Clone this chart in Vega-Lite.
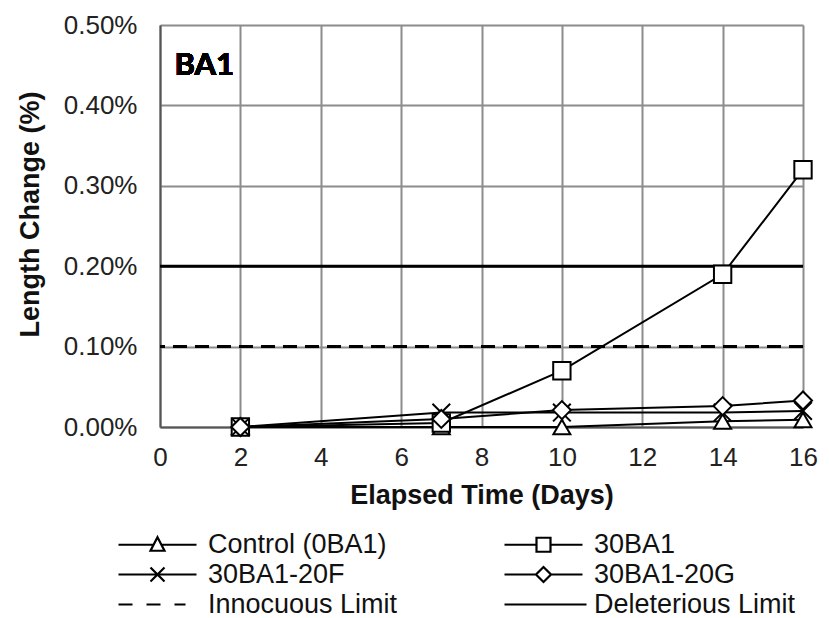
{
  "$schema": "https://vega.github.io/schema/vega-lite/v6.json",
  "width": 643,
  "height": 402,
  "padding": {"left": 16, "top": 12, "right": 12, "bottom": 0},
  "background": "white",
  "config": {
    "font": "Liberation Sans",
    "view": {"stroke": null},
    "axis": {
      "grid": true,
      "gridColor": "#8c8c8c",
      "gridWidth": 2,
      "domainColor": "#555555",
      "domainWidth": 2,
      "ticks": false,
      "labelFont": "Liberation Sans",
      "labelFontSize": 26,
      "labelColor": "#222222",
      "titleFont": "Liberation Sans",
      "titleFontSize": 27,
      "titleFontWeight": "bold",
      "titleColor": "#111111"
    },
    "legend": {
      "labelFont": "Liberation Sans",
      "labelFontSize": 27,
      "labelColor": "#111111"
    }
  },
  "data": {
    "values": [
      {"series": "Control (0BA1)", "day": 2, "pct": 0.0},
      {"series": "Control (0BA1)", "day": 7, "pct": 0.0},
      {"series": "Control (0BA1)", "day": 10, "pct": 0.0},
      {"series": "Control (0BA1)", "day": 14, "pct": 0.007},
      {"series": "Control (0BA1)", "day": 16, "pct": 0.009},
      {"series": "30BA1", "day": 2, "pct": 0.0},
      {"series": "30BA1", "day": 7, "pct": 0.005},
      {"series": "30BA1", "day": 10, "pct": 0.07},
      {"series": "30BA1", "day": 14, "pct": 0.19},
      {"series": "30BA1", "day": 16, "pct": 0.32},
      {"series": "30BA1-20F", "day": 2, "pct": 0.0},
      {"series": "30BA1-20F", "day": 7, "pct": 0.018},
      {"series": "30BA1-20F", "day": 10, "pct": 0.018},
      {"series": "30BA1-20F", "day": 14, "pct": 0.018},
      {"series": "30BA1-20F", "day": 16, "pct": 0.02},
      {"series": "30BA1-20G", "day": 2, "pct": 0.0},
      {"series": "30BA1-20G", "day": 7, "pct": 0.01},
      {"series": "30BA1-20G", "day": 10, "pct": 0.021},
      {"series": "30BA1-20G", "day": 14, "pct": 0.026},
      {"series": "30BA1-20G", "day": 16, "pct": 0.033},
      {"series": "Innocuous Limit", "pct": 0.1},
      {"series": "Deleterious Limit", "pct": 0.2}
    ]
  },
  "layer": [
    {
      "transform": [{"filter": "datum.day == null"}],
      "mark": {"type": "rule", "color": "black", "strokeWidth": 3},
      "encoding": {
        "y": {"field": "pct", "type": "quantitative", "title": "Length Change (%)"},
        "strokeDash": {
          "field": "series",
          "type": "nominal",
          "scale": {"domain": ["Innocuous Limit", "Deleterious Limit"], "range": [[14, 8], [1, 0]]},
          "legend": null
        }
      }
    },
    {
      "transform": [{"filter": "datum.day != null"}],
      "mark": {"type": "line", "color": "black", "strokeWidth": 2},
      "encoding": {
        "x": {
          "field": "day",
          "type": "quantitative",
          "title": "Elapsed Time (Days)",
          "scale": {"domain": [0, 16], "nice": false},
          "axis": {
            "values": [0, 2, 4, 6, 8, 10, 12, 14, 16],
            "labelFlush": false,
            "labelPadding": 17,
            "titlePadding": 12
          }
        },
        "y": {
          "field": "pct",
          "type": "quantitative",
          "title": "Length Change (%)",
          "scale": {"domain": [0, 0.5], "nice": false},
          "axis": {
            "values": [0, 0.1, 0.2, 0.3, 0.4, 0.5],
            "labelExpr": "format(datum.value, '.2f') + '%'",
            "labelPadding": 23,
            "titlePadding": 19,
            "titleY": 189
          }
        },
        "detail": {"field": "series", "type": "nominal"}
      }
    },
    {
      "transform": [{"filter": "datum.day != null"}],
      "mark": {"type": "point", "filled": true, "fill": "white", "stroke": "black", "strokeWidth": 2, "opacity": 1},
      "encoding": {
        "x": {"field": "day", "type": "quantitative", "title": "Elapsed Time (Days)"},
        "y": {"field": "pct", "type": "quantitative", "title": "Length Change (%)"},
        "shape": {
          "field": "series",
          "type": "nominal",
          "scale": {
            "domain": ["Control (0BA1)", "30BA1", "30BA1-20F", "30BA1-20G"],
            "range": ["triangle-up", "square", "M-1,-1L1,1M1,-1L-1,1", "diamond"]
          },
          "legend": null
        },
        "size": {
          "field": "series",
          "type": "ordinal",
          "scale": {
            "domain": ["Control (0BA1)", "30BA1", "30BA1-20F", "30BA1-20G"],
            "range": [289, 324, 256, 169]
          },
          "legend": null
        }
      }
    },
    {
      "transform": [{"filter": "false"}],
      "mark": {"type": "point", "filled": true, "fill": "white", "stroke": "black", "strokeWidth": 2.2, "opacity": 1},
      "encoding": {
        "x": {"field": "day", "type": "quantitative", "title": "Elapsed Time (Days)"},
        "y": {"field": "pct", "type": "quantitative", "title": "Length Change (%)"},
        "shape": {
          "field": "series",
          "type": "nominal",
          "scale": {
            "domain": ["Control (0BA1)", "30BA1", "30BA1-20F", "30BA1-20G", "Innocuous Limit", "Deleterious Limit"],
            "range": [
              "M-1,0H2.51M3.29,0H6.8M2.9,-0.75L3.6,0.6L2.2,0.6Z",
              "M-1,0H2.2M3.6,0H6.8M2.2,-0.7H3.6V0.7H2.2Z",
              "M-1,0H6.8M2.2,-0.7L3.6,0.7M3.6,-0.7L2.2,0.7",
              "M-1,0H2.15M3.65,0H6.8M2.9,-0.75L3.65,0L2.9,0.75L2.15,0Z",
              "M-1,0H0.4M1.8,0H3.2M4.6,0H5.7",
              "M-1,0H7.2"
            ]
          },
          "legend": {
            "title": null,
            "orient": "none",
            "direction": "horizontal",
            "legendX": -45,
            "legendY": 506,
            "columns": 2,
            "columnPadding": 102,
            "rowPadding": 2,
            "symbolSize": 400,
            "symbolOpacity": 1,
            "symbolStrokeWidth": 2.2,
            "labelOffset": 66,
            "labelLimit": 400
          }
        }
      }
    },
    {
      "mark": {"type": "text", "font": "Lato", "fontSize": 31, "fontWeight": "bold", "color": "black", "align": "center", "baseline": "middle"},
      "encoding": {
        "x": {"datum": 1.1, "type": "quantitative", "title": "Elapsed Time (Days)"},
        "y": {"datum": 0.449, "type": "quantitative", "title": "Length Change (%)"},
        "text": {"value": "BA1"}
      }
    }
  ],
  "resolve": {"scale": {"shape": "independent", "size": "independent"}}
}
